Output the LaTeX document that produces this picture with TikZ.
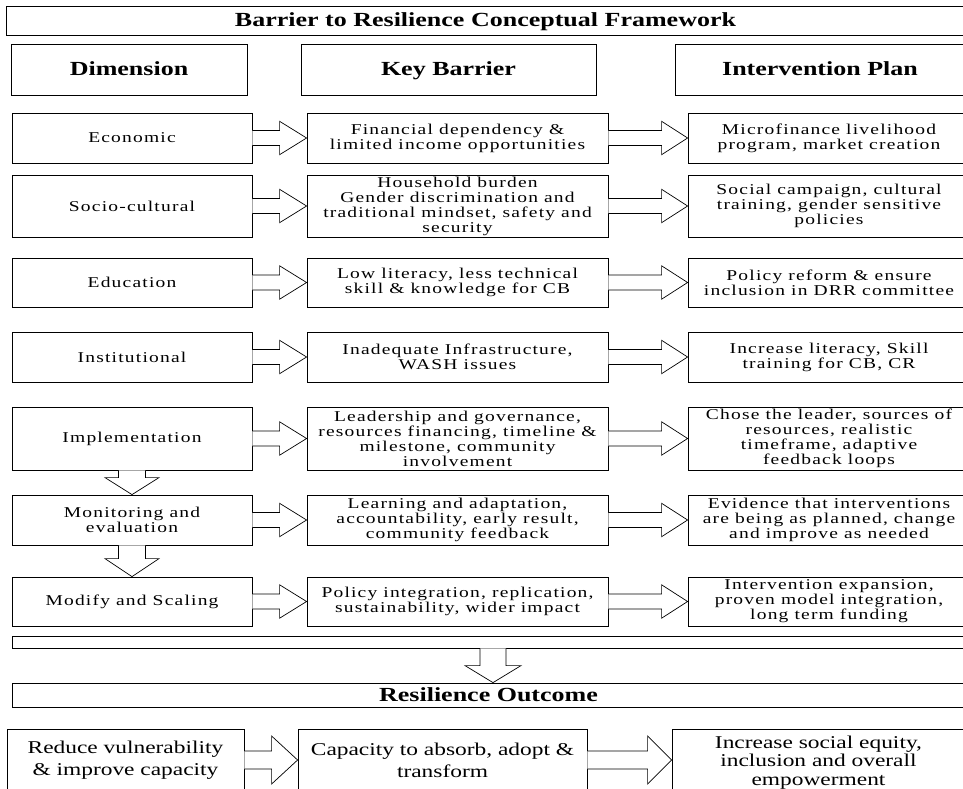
\documentclass[tikz,border=0pt]{standalone}
\usepackage{fontspec}
\setmainfont{Liberation Serif}[FakeStretch=1.3]
\newfontfamily\bodyfont{Liberation Serif}[FakeStretch=1.3,LetterSpace=8]
\usetikzlibrary{calc}
\newcommand{\rarrow}[5]{\draw[arr] ($(#1.east)+(0,#3)$) -- ($(#2.west)+(-#5,#3)$) -- ($(#2.west)+(-#5,#4)$) -- (#2.west) -- ($(#2.west)+(-#5,-#4)$) -- ($(#2.west)+(-#5,-#3)$) -- ($(#1.east)+(0,-#3)$);}
\newcommand{\darrow}[5]{\draw[arr] ($(#1)+(#3,0)$) -- ($(#2)+(#3,-#5)$) -- ($(#2)+(#4,-#5)$) -- (#2) -- ($(#2)+(-#4,-#5)$) -- ($(#2)+(-#3,-#5)$) -- ($(#1)+(-#3,0)$);}
\begin{document}
\begin{tikzpicture}[x=1pt,y=-1pt,
  box/.style={draw, line width=0.8pt, inner sep=0pt, align=center},
  hdr/.style={box, font=\bfseries\fontsize{20}{22}\selectfont, text height=13.5pt, text depth=0.5pt},
  body/.style={box, font=\bodyfont\fontsize{15}{15}\selectfont},
  low/.style={box, font=\fontsize{18}{22}\selectfont},
  c1/.style={minimum width=240pt},
  c2/.style={minimum width=301pt},
  c3/.style={minimum width=282pt},
  arr/.style={draw, line width=0.7pt, fill=white, line join=miter}]
\clip (0,0) rectangle (963,789);
\fill[white] (0,0) rectangle (963,789);
% title and headers
\node[hdr, minimum width=959pt, minimum height=29pt] (title) at (485.5,20.5) {Barrier to Resilience Conceptual Framework};
\node[hdr, minimum width=236pt, minimum height=51pt] (hdim) at (129,69.5) {Dimension};
\node[hdr, minimum width=295pt, minimum height=51pt] (hkey) at (448.5,69.5) {Key Barrier};
\node[hdr, minimum width=290pt, minimum height=51pt] (hint) at (820,69.5) {Intervention Plan};
% row 1
\node[body, c1, minimum height=50pt] (d1) at (132,138) {Economic};
\node[body, c2, minimum height=50pt] (k1) at (457.5,138) {Financial dependency \&\\limited income opportunities};
\node[body, c3, minimum height=50pt] (p1) at (829,138) {Microfinance livelihood\\program, market creation};
% row 2
\node[body, c1, minimum height=62pt] (d2) at (132,206) {Socio-cultural};
\node[body, c2, minimum height=62pt] (k2) at (457.5,206) {Household burden\\Gender discrimination and\\traditional mindset, safety and\\security};
\node[body, c3, minimum height=62pt] (p2) at (829,206) {Social campaign, cultural\\training, gender sensitive\\policies};
% row 3
\node[body, c1, minimum height=49pt] (d3) at (132,282.5) {Education};
\node[body, c2, minimum height=49pt] (k3) at (457.5,282.5) {Low literacy, less technical\\skill \& knowledge for CB};
\node[body, c3, minimum height=49pt] (p3) at (829,282.5) {Policy reform \& ensure\\inclusion in DRR committee};
% row 4
\node[body, c1, minimum height=50pt] (d4) at (132,357) {Institutional};
\node[body, c2, minimum height=50pt] (k4) at (457.5,357) {Inadequate Infrastructure,\\WASH issues};
\node[body, c3, minimum height=50pt] (p4) at (829,357) {Increase literacy, Skill\\training for CB, CR};
% row 5
\node[body, c1, minimum height=63pt] (d5) at (132,438.5) {Implementation};
\node[body, c2, minimum height=63pt] (k5) at (457.5,438.5) {Leadership and governance,\\resources financing, timeline \&\\milestone, community\\involvement};
\node[body, c3, minimum height=63pt] (p5) at (829,438.5) {Chose the leader, sources of\\resources, realistic\\timeframe, adaptive\\feedback loops};
% row 6
\node[body, c1, minimum height=50pt] (d6) at (132,520) {Monitoring and\\evaluation};
\node[body, c2, minimum height=50pt] (k6) at (457.5,520) {Learning and adaptation,\\accountability, early result,\\community feedback};
\node[body, c3, minimum height=50pt] (p6) at (829,520) {Evidence that interventions\\are being as planned, change\\and improve as needed};
% row 7
\node[body, c1, minimum height=49pt] (d7) at (132,601.5) {Modify and Scaling};
\node[body, c2, minimum height=49pt] (k7) at (457.5,601.5) {Policy integration, replication,\\sustainability, wider impact};
\node[body, c3, minimum height=49pt] (p7) at (829,601.5) {Intervention expansion,\\proven model integration,\\long term funding};
% thin bar and outcome
\node[box, minimum width=953pt, minimum height=12pt] (bar) at (488.5,642) {};
\node[hdr, minimum width=953pt, minimum height=24pt] (out) at (488.5,695) {Resilience Outcome};
% bottom boxes
\node[low, minimum width=237pt, minimum height=62pt] (o1) at (125.5,760) {Reduce vulnerability\\\& improve capacity};
\node[low, minimum width=289pt, minimum height=62pt] (o2) at (442.5,760) {Capacity to absorb, adopt \&\\transform};
\node[low, font=\fontsize{18}{18.5}\selectfont, minimum width=293pt, minimum height=62pt] (o3) at (818.5,760) {\rule{0pt}{17pt}Increase social equity,\\inclusion and overall\\empowerment};
% horizontal arrows
\foreach \r in {1,...,7}{
  \rarrow{d\r}{k\r}{7.5}{16.7}{27}
  \rarrow{k\r}{p\r}{7.5}{16.7}{26}
}
\rarrow{o1}{o2}{9}{24}{26}
\rarrow{o2}{o3}{9}{24}{24}
% vertical arrows
\darrow{d5.south}{d6.north}{13.5}{27}{17}
\darrow{d6.south}{d7.north}{13.5}{27}{18}
\coordinate (bt) at ($(bar.south)+(4.5,0)$);
\coordinate (ot) at ($(out.north)+(4.5,0)$);
\darrow{bt}{ot}{13}{28}{17}
\end{tikzpicture}
\end{document}
